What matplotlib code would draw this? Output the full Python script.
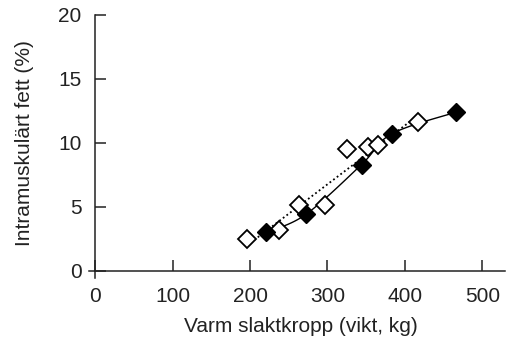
import numpy as np
import matplotlib.pyplot as plt

plt.rcParams['font.family'] = ['Liberation Sans', 'DejaVu Sans']

# open diamonds (dotted trend line)
open_x = [196, 238, 263, 297, 325, 352, 365, 417]
open_y = [2.5, 3.2, 5.1, 5.1, 9.5, 9.7, 9.8, 11.6]

# filled diamonds (smoothed solid line)
fill_x = [221, 272, 344, 383, 466]
fill_y = [3.0, 4.4, 8.3, 10.7, 12.4]

xticks = [0, 100, 200, 300, 400, 500]
yticks = [0, 5, 10, 15, 20]


def smooth(xs, ys, n=30):
    # Catmull-Rom curve through the points, like Excel's smoothed line
    p = np.column_stack([xs, ys]).astype(float)
    p = np.vstack([p[0], p, p[-1]])
    out = []
    t = np.linspace(0, 1, n)
    for i in range(1, len(p) - 2):
        p0, p1, p2, p3 = p[i - 1], p[i], p[i + 1], p[i + 2]
        for tt in t:
            out.append(0.5 * ((2 * p1) + (-p0 + p2) * tt
                              + (2 * p0 - 5 * p1 + 4 * p2 - p3) * tt ** 2
                              + (-p0 + 3 * p1 - 3 * p2 + p3) * tt ** 3))
    out = np.array(out)
    return out[:, 0], out[:, 1]


fig = plt.figure(figsize=(5.08, 3.43), dpi=100)
ax = fig.add_axes([0.1876, 0.2108, 0.8074, 0.7455])

# dotted linear trend of the open points
k, b = np.polyfit(open_x, open_y, 1)
tx = np.array([min(open_x), max(open_x)])
ax.plot(tx, k * tx + b, color='black', linestyle=(0, (1, 1.5)), linewidth=1.3, zorder=2)

sx, sy = smooth(fill_x, fill_y)
ax.plot(sx, sy, color='black', linewidth=1.0, zorder=2)

ax.plot(open_x, open_y, linestyle='none', marker='D', markersize=9,
        markerfacecolor='white', markeredgecolor='black', markeredgewidth=1.3, zorder=3)
ax.plot(fill_x, fill_y, linestyle='none', marker='D', markersize=9,
        markerfacecolor='black', markeredgecolor='black', zorder=4)

ax.set_xlim(0, 530)
ax.set_ylim(0, 20)
ax.set_xticks(xticks)
ax.set_yticks(yticks)

for s in ['top', 'right']:
    ax.spines[s].set_visible(False)
for s in ['left', 'bottom']:
    ax.spines[s].set_linewidth(1.1)
    ax.spines[s].set_color('#222222')

ax.tick_params(direction='in', length=8, width=1.1, color='#222222',
               labelsize=15, pad=10, labelcolor='#222222')
ax.tick_params(axis='x', pad=12)

# little cross at the origin
ax.plot([0, 0], [0, -0.03], transform=ax.transAxes, color='#222222', lw=1.1, clip_on=False)
ax.plot([0, -0.016], [0, 0], transform=ax.transAxes, color='#222222', lw=1.1, clip_on=False)

ax.set_xlabel('Varm slaktkropp (vikt, kg)', fontsize=15, color='#222222', labelpad=8)
ax.set_ylabel('Intramuskulärt fett (%)', fontsize=15, color='#222222', labelpad=17)

fig.savefig('out.png', dpi=100)
